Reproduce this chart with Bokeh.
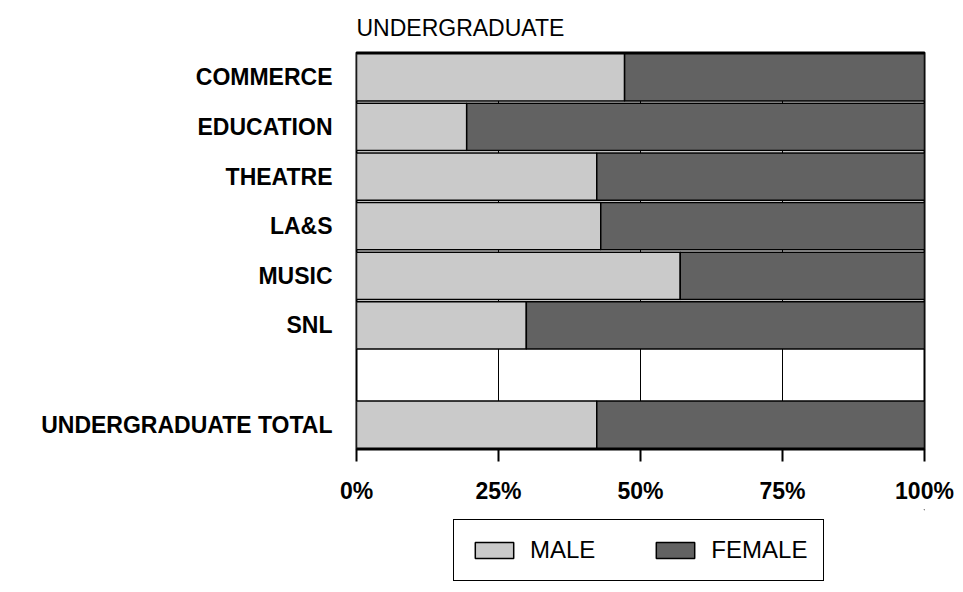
from bokeh.plotting import figure
from bokeh.layouts import column
from bokeh.models import FactorRange, Range1d, FixedTicker, Legend, LegendItem, ColumnDataSource
from bokeh.embed import file_html
from bokeh.resources import INLINE

# ---- data ----
categories = ["COMMERCE", "EDUCATION", "THEATRE", "LA&S", "MUSIC", "SNL", " ", "UNDERGRADUATE TOTAL"]
bar_categories = ["COMMERCE", "EDUCATION", "THEATRE", "LA&S", "MUSIC", "SNL", "UNDERGRADUATE TOTAL"]
male = [47.2, 19.4, 42.3, 43.0, 57.0, 29.9, 42.3]
female = [52.8, 80.6, 57.7, 57.0, 43.0, 70.1, 57.7]
tick_values = [0, 25, 50, 75, 100]
tick_labels = ["0%", "25%", "50%", "75%", "100%"]
series_names = ["MALE", "FEMALE"]

FONT = "Liberation Sans"
MALE_COLOR = "#cacaca"
FEMALE_COLOR = "#626262"

src = ColumnDataSource(dict(
    y=bar_categories,
    m_left=[0] * len(male),
    m_right=male,
    f_left=male,
    f_right=[a + b for a, b in zip(male, female)],
))

p = figure(
    frame_width=568, frame_height=397,
    y_range=FactorRange(factors=list(reversed(categories))),
    x_range=Range1d(0, 100),
    output_backend="svg", toolbar_location=None,
    min_border_left=356, min_border_right=31,
    min_border_top=51, min_border_bottom=60,
    title="UNDERGRADUATE",
)

p.title.text_font = FONT
p.title.text_font_size = "23px"
p.title.text_font_style = "normal"
p.title.align = "left"
p.title.text_color = "black"
p.title.standoff = 24

p.outline_line_color = "black"
p.outline_line_width = 2
p.outline_line_alpha = 1

p.hbar(y="y", left="m_left", right="m_right", height=0.95, source=src,
       fill_color=MALE_COLOR, line_color="black", line_width=1.5)
p.hbar(y="y", left="f_left", right="f_right", height=0.95, source=src,
       fill_color=FEMALE_COLOR, line_color="black", line_width=1.5)

# grid
p.ygrid.visible = False
p.xgrid.ticker = FixedTicker(ticks=tick_values[1:-1])
p.xgrid.grid_line_color = "black"
p.xgrid.grid_line_width = 1
p.xgrid.grid_line_alpha = 1

# x axis
xa = p.xaxis[0]
xa.ticker = FixedTicker(ticks=tick_values)
xa.major_label_overrides = {v: l for v, l in zip(tick_values, tick_labels)}
xa.axis_line_color = None
xa.major_tick_in = 0
xa.major_tick_out = 12
xa.major_tick_line_width = 2
xa.major_tick_line_color = "black"
xa.minor_tick_line_color = None
xa.major_label_standoff = 16
xa.major_label_text_font = FONT
xa.major_label_text_font_size = "23px"
xa.major_label_text_font_style = "bold"
xa.major_label_text_color = "black"

# y axis
ya = p.yaxis[0]
ya.axis_line_color = None
ya.major_tick_line_color = None
ya.minor_tick_line_color = None
ya.major_label_standoff = 18
ya.major_label_text_font = FONT
ya.major_label_text_font_size = "23px"
ya.major_label_text_font_style = "bold"
ya.major_label_text_color = "black"

# ---- legend strip (separate figure below the chart) ----
p2 = figure(
    width=955, height=84,
    x_range=Range1d(0, 1), y_range=Range1d(0, 1),
    x_axis_type=None, y_axis_type=None,
    output_backend="svg", toolbar_location=None,
    min_border_left=0, min_border_right=0, min_border_top=0, min_border_bottom=0,
)
p2.outline_line_color = None
p2.xgrid.visible = False
p2.ygrid.visible = False

# placeholder bars far outside the visible range, used only for the legend swatches
lm = p2.hbar(y=[50], left=[50], right=[51], height=0.5,
             fill_color=MALE_COLOR, line_color="black", line_width=1.5)
lf = p2.hbar(y=[50], left=[50], right=[51], height=0.5,
             fill_color=FEMALE_COLOR, line_color="black", line_width=1.5)

legend = Legend(
    items=[LegendItem(label=series_names[0], renderers=[lm]),
           LegendItem(label=series_names[1], renderers=[lf])],
    orientation="horizontal", location=(97, 12),
    border_line_color="black", border_line_width=1.5, border_line_alpha=1,
    label_text_font=FONT, label_text_font_size="24px", label_text_color="black",
    glyph_width=48, glyph_height=20,
    spacing=56, padding=16, label_standoff=12, margin=0,
    background_fill_color="white", background_fill_alpha=1,
)
p2.add_layout(legend)

layout = column(p, p2, spacing=0)
open("out.html", "w").write(file_html(layout, INLINE))
